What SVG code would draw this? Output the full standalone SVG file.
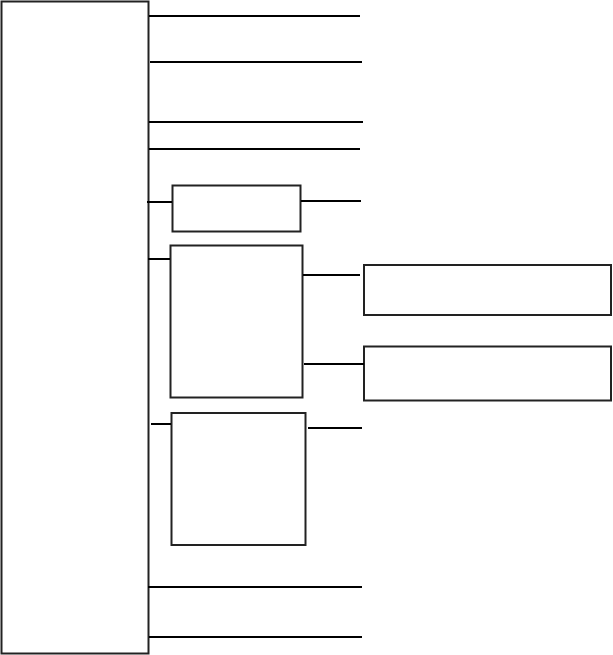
<svg xmlns="http://www.w3.org/2000/svg" width="613" height="655" viewBox="0 0 613 655">
<style>
.n{fill:#fff;stroke:#222;stroke-width:2}
.c{stroke:#000;stroke-width:2;fill:none}
</style>
<rect width="613" height="655" fill="#fff"/>
<g id="main"><rect class="n" x="1.5" y="1.5" width="147" height="652"/></g>
<g id="box1"><rect class="n" x="172.5" y="185.5" width="128" height="46"/></g>
<g id="box2"><rect class="n" x="170.5" y="245.5" width="132" height="152"/></g>
<g id="box3"><rect class="n" x="171.5" y="413" width="134" height="132"/></g>
<g id="boxA"><rect class="n" x="364" y="265" width="247" height="50"/></g>
<g id="boxB"><rect class="n" x="364" y="346.5" width="247" height="54"/></g>
<g id="connectors">
<line class="c" x1="149" y1="16" x2="360" y2="16"/>
<line class="c" x1="150" y1="62" x2="362" y2="62"/>
<line class="c" x1="149" y1="122" x2="363" y2="122"/>
<line class="c" x1="149" y1="149" x2="360" y2="149"/>
<line class="c" x1="147" y1="202" x2="172" y2="202"/>
<line class="c" x1="301" y1="201" x2="361" y2="201"/>
<line class="c" x1="148" y1="259" x2="170" y2="259"/>
<line class="c" x1="303" y1="275" x2="360" y2="275"/>
<line class="c" x1="304" y1="364" x2="364" y2="364"/>
<line class="c" x1="151" y1="424" x2="171" y2="424"/>
<line class="c" x1="308" y1="428" x2="362" y2="428"/>
<line class="c" x1="148" y1="587" x2="362" y2="587"/>
<line class="c" x1="149" y1="637" x2="362" y2="637"/>
</g>
</svg>
